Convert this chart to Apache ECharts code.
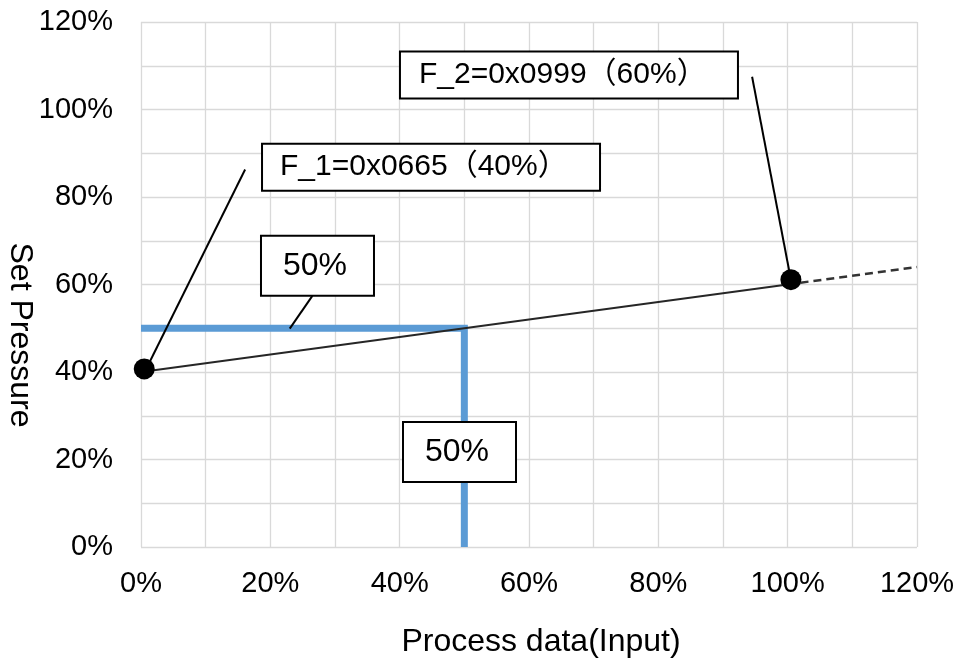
<!DOCTYPE html>
<html>
<head>
<meta charset="utf-8">
<script src="https://cdn.jsdelivr.net/npm/echarts@6/dist/echarts.min.js"></script>
<style>html,body{margin:0;padding:0;background:#fff;}#c{width:962px;height:664px;}</style>
</head>
<body>
<div id="c"></div>
<script>
// ---- data ----
const xTicks = [0, 20, 40, 60, 80, 100, 120];
const yTicks = [0, 20, 40, 60, 80, 100, 120];
const lineX = [0, 100];          // Process data (Input) %
const lineY = [40, 60];          // Set Pressure %
const extX = [100, 120];         // extrapolated (dashed)
const extY = [60, 64];
const refX = [0, 50, 50];        // 50% reference path
const refY = [50, 50, 0];
const markerX = [0.5, 100.5];    // F_1, F_2 points
const markerY = [40.7, 61.1];
const labelTexts = ['F_1=0x0665（40%）', 'F_2=0x0999（60%）', '50%', '50%'];
const xTitle = 'Process data(Input)';
const yTitle = 'Set Pressure';

// ---- annotation layout (data coordinates of box left-middle, leader lines) ----
const boxAnchors = [[18.87, 86.82], [40.2, 107.87], [18.71, 64.29], [40.67, 21.73]];
const leaders = [
  [[16.1, 86.3], [0.8, 40.7]],
  [[94.5, 107.5], [100.5, 61.1]],
  [[26.5, 57.4], [23.0, 49.9]]
];
const boxStyles = [
  {width: 319, height: 45, padding: [0, 0, 0, 17]},
  {width: 318, height: 45, padding: [0, 0, 0, 18]},
  {width: 90, height: 58, padding: [0, 0, 0, 21]},
  {width: 90, height: 58, padding: [0, 0, 0, 21]}
];

const FONT = '"Liberation Sans", Arial, "Noto Sans CJK JP", sans-serif';
const zip = (a, b) => a.map((v, i) => [v, b[i]]);

const chart = echarts.init(document.getElementById('c'), null, {renderer: 'canvas'});

const axisCommon = (ticks, margin) => ({
  type: 'value', min: 0, max: 120, interval: 10,
  axisLine: {show: false}, axisTick: {show: false},
  splitLine: {show: true, lineStyle: {color: '#d9d9d9', width: 1.3}},
  axisLabel: {
    fontFamily: FONT, fontSize: 29, color: '#000', margin: margin,
    formatter: v => (ticks.indexOf(v) >= 0 ? v + '%' : '')
  }
});

const series = [
  {
    type: 'line', data: zip(refX, refY), symbol: 'none', z: 2,
    lineStyle: {color: '#5B9BD5', width: 7, cap: 'butt', join: 'miter'}, silent: true
  },
  {
    type: 'line', data: zip(lineX, lineY), symbol: 'none', z: 3,
    lineStyle: {color: '#262626', width: 1.8}, silent: true
  },
  {
    type: 'line', data: zip(extX, extY), symbol: 'none', z: 3,
    lineStyle: {color: '#333', width: 2.4, type: [8, 5]}, silent: true
  }
];
leaders.forEach(l => series.push({
  type: 'line', data: l, symbol: 'none', z: 4,
  lineStyle: {color: '#000', width: 2}, silent: true
}));
series.push({
  type: 'scatter', data: zip(markerX, markerY), symbol: 'circle', symbolSize: 21, z: 5,
  itemStyle: {color: '#000', opacity: 1}, silent: true
});
series.push({
  type: 'scatter', symbolSize: 1, z: 10, silent: true,
  itemStyle: {color: 'rgba(0,0,0,0)', opacity: 1},
  data: boxAnchors.map((p, i) => ({
    value: p,
    label: Object.assign({
      show: true, position: 'inside', align: 'left', verticalAlign: 'middle',
      formatter: labelTexts[i], fontFamily: FONT, fontSize: i < 2 ? 30 : 32, color: '#000',
      opacity: 1,
      lineHeight: boxStyles[i].height,
      backgroundColor: '#fff', borderColor: '#000', borderWidth: 2
    }, boxStyles[i])
  }))
});

chart.setOption({
  animation: false,
  backgroundColor: '#fff',
  grid: {left: 141, right: 45, top: 22, bottom: 117},
  xAxis: axisCommon(xTicks, 22),
  yAxis: axisCommon(yTicks, 28),
  graphic: [
    {type: 'text', silent: true, x: 541, y: 642,
     style: {text: xTitle, font: '32px ' + FONT, fill: '#000', textAlign: 'center', textVerticalAlign: 'middle'}},
    {type: 'text', silent: true, x: 20, y: 335, rotation: -Math.PI / 2,
     style: {text: yTitle, font: '32px ' + FONT, fill: '#000', textAlign: 'center', textVerticalAlign: 'middle'}}
  ],
  series: series
});
</script>
</body>
</html>
